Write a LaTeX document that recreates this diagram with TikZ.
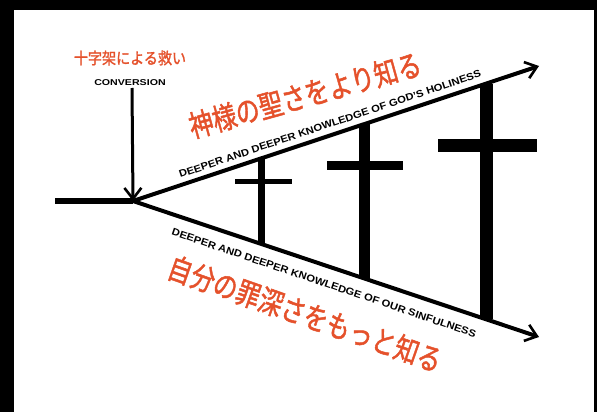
\documentclass[tikz,border=0pt]{standalone}
\usepackage{fontspec}
\setmainfont{Liberation Sans}
\newfontfamily\jp[FakeBold=1.6]{Noto Sans CJK JP}
\usetikzlibrary{arrows.meta,calc}
\definecolor{jorange}{HTML}{E5512B}
\begin{document}
\begin{tikzpicture}[x=1pt,y=-1pt,
  axis/.style={line width=4pt},
  tip/.style={-{Straight Barb[length=11pt,width=17pt,line width=2.6pt]}},
  engl/.style={font=\bfseries\fontsize{10}{10}\selectfont, inner sep=0pt},
  jpbig/.style={text=jorange, font=\jp\fontsize{30}{30}\selectfont, inner sep=0pt},
  jpsmall/.style={text=jorange, font=\jp\fontsize{16}{16}\selectfont, inner sep=0pt}]
\fill[black] (0,0) rectangle (597,412);
\fill[white] (14,10) rectangle (594,412);
\useasboundingbox (0,0) rectangle (597,412);

\coordinate (O) at (133,201);
\coordinate (L) at (55,201);
\coordinate (U) at (539,66);
\coordinate (D) at (539,337);

% texts at the conversion point
\node[jpsmall] (salv) at (130,58) {\scalebox{0.88}[1]{十字架による救い}};
\node[engl, font=\bfseries\fontsize{8.5}{8.5}\selectfont] (conv) at (130,83) {\scalebox{1.25}[1]{CONVERSION}};

% horizontal lead line
\draw[line width=5.5pt] (L) -- (O);
% conversion arrow
\coordinate (ctop) at (132,88);
\draw[line width=3pt, tip] (ctop) -- (O);

% crosses
\foreach \t/\v/\hy/\hl/\hr/\hw in {0.3177/7/181/235/292/5, 0.569/11/165/327/403/9, 0.8695/13/145/438/537/13}{
  \draw[line width=\v pt] ($(O)!\t!(U)$) -- ($(O)!\t!(D)$);
  \draw[line width=\hw pt] (\hl,\hy) -- (\hr,\hy);
}

% the two arrows
\draw[axis, tip] (O) -- (U);
\draw[axis, tip] (O) -- (D);

% labels of upper arrow
\node[jpbig, rotate=15.5] (holyjp) at (305,95) {\scalebox{0.8}[1]{神様の聖さをより知る}};
\node[engl, rotate=18.6] (holyen) at (330,124) {\scalebox{1.12}[1]{DEEPER AND DEEPER KNOWLEDGE OF GOD'S HOLINESS}};

% labels of lower arrow
\node[engl, rotate=-18.7] (sinen) at (324,283) {\scalebox{1.12}[1]{DEEPER AND DEEPER KNOWLEDGE OF OUR SINFULNESS}};
\node[jpbig, rotate=-19.4] (sinjp) at (305,314) {\scalebox{0.8}[1]{自分の罪深さをもっと知る}};
\end{tikzpicture}
\end{document}
